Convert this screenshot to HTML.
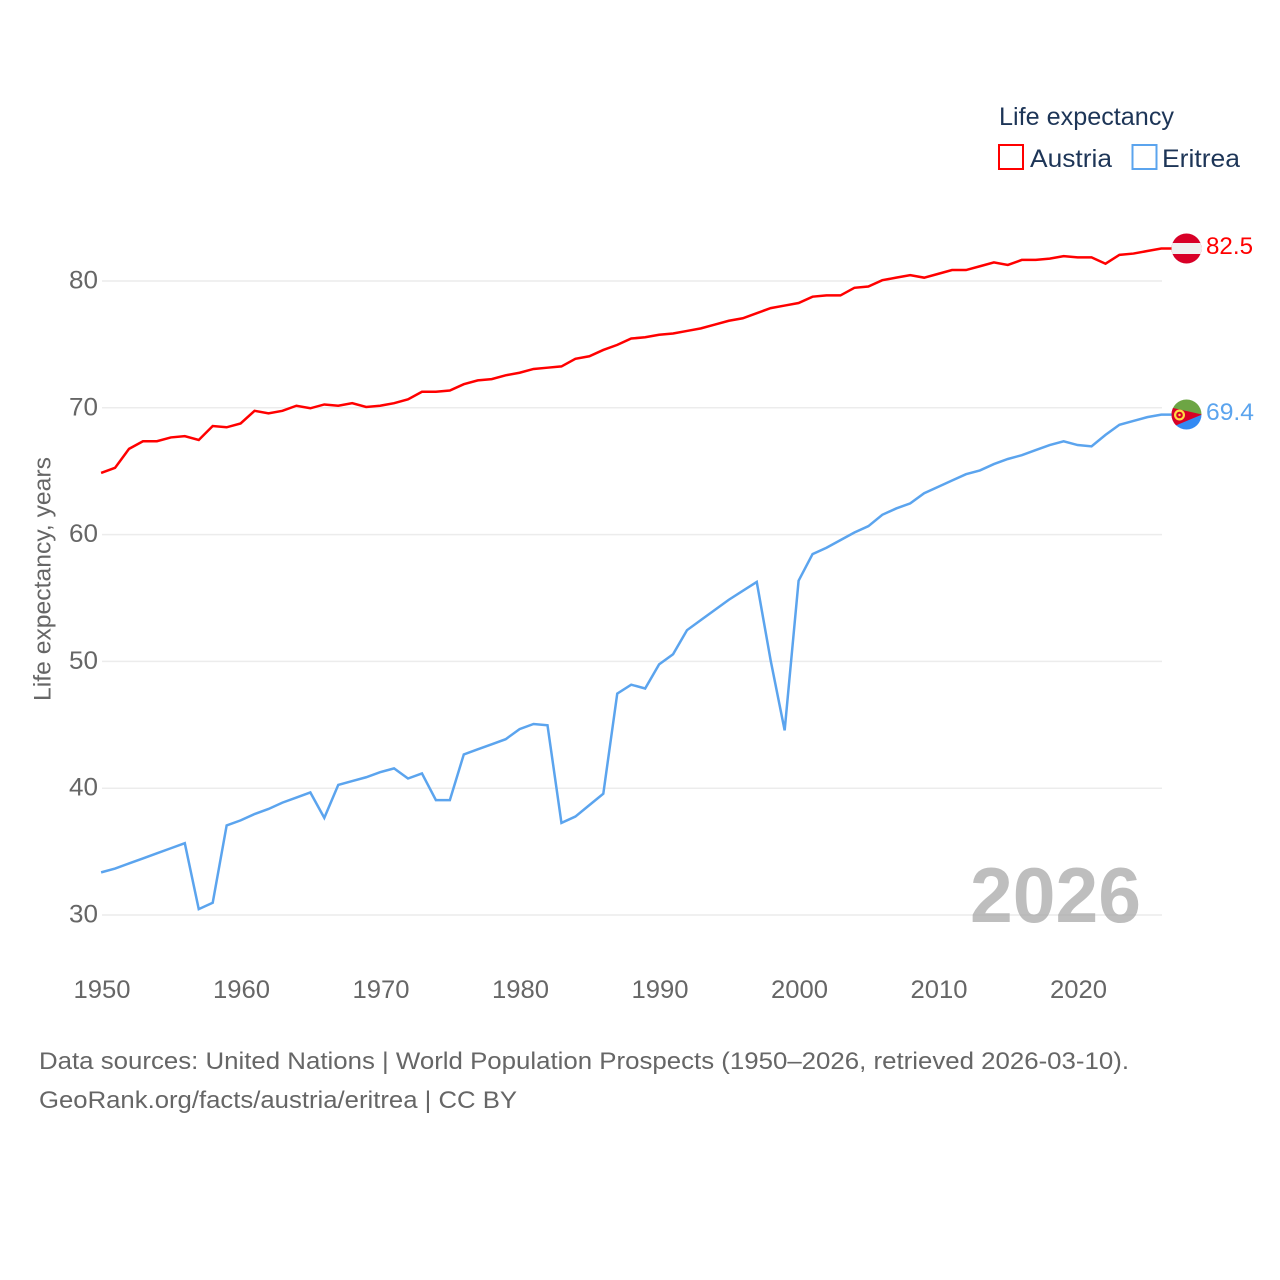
<!DOCTYPE html>
<html lang="en">
<head>
<meta charset="utf-8">
<title>Life expectancy: Austria and Eritrea</title>
<style>
html,body{margin:0;padding:0;background:#fff;}
svg{display:block;font-family:"Liberation Sans",sans-serif;}
</style>
</head>
<body>
<svg id="chart" xmlns="http://www.w3.org/2000/svg" width="1280" height="1280" viewBox="0 0 1280 1280">
  <rect x="0" y="0" width="1280" height="1280" fill="#ffffff"/>
  <g id="grid"></g>
  <g id="yticks"></g>
  <g id="xticks"></g>
  <text transform="translate(50.5,701) rotate(-90)" font-size="24.5" fill="#666666" textLength="244" lengthAdjust="spacingAndGlyphs">Life expectancy, years</text>
  <text x="970" y="922" font-size="78" font-weight="700" fill="#a8a8a8" fill-opacity="0.75" textLength="171" lengthAdjust="spacingAndGlyphs">2026</text>
  <g id="series" transform="translate(-0.4,-0.8)"></g>
  <g id="flag-austria">
    <clipPath id="clip-at"><circle cx="1186.5" cy="248.5" r="15"/></clipPath>
    <g clip-path="url(#clip-at)">
      <rect x="1171" y="233" width="31" height="31" fill="#d80027"/>
      <rect x="1171" y="243" width="31" height="11" fill="#f0f0f0"/>
    </g>
  </g>
  <g id="flag-eritrea">
    <clipPath id="clip-er"><circle cx="1186.5" cy="414.5" r="15"/></clipPath>
    <g clip-path="url(#clip-er)">
      <rect x="1171" y="399" width="31" height="16" fill="#6da544"/>
      <rect x="1171" y="414.5" width="31" height="16" fill="#338af3"/>
      <polygon points="1171,407.5 1202,414.5 1171,427.5" fill="#d80027"/>
      <circle cx="1179.5" cy="415" r="4.4" fill="none" stroke="#ffda44" stroke-width="2.2"/>
      <circle cx="1179.5" cy="415" r="1.2" fill="#ffda44"/>
    </g>
  </g>
  <text x="1206" y="254" font-size="24.5" fill="#ff0000" textLength="47" lengthAdjust="spacingAndGlyphs">82.5</text>
  <text x="1206" y="420" font-size="24.5" fill="#5ba4ee" textLength="48" lengthAdjust="spacingAndGlyphs">69.4</text>
  <g>
    <text x="999" y="125" font-size="25" fill="#1d3557" textLength="175" lengthAdjust="spacingAndGlyphs">Life expectancy</text>
    <g>
      <rect x="999" y="145" width="24" height="24" fill="none" stroke="#ff0000" stroke-width="2"/>
      <text x="1030" y="167" font-size="25" fill="#1d3557" textLength="82" lengthAdjust="spacingAndGlyphs">Austria</text>
    </g>
    <g>
      <rect x="1132.5" y="145" width="24" height="24" fill="none" stroke="#5ba4ee" stroke-width="2"/>
      <text x="1162" y="167" font-size="25" fill="#1d3557" textLength="78" lengthAdjust="spacingAndGlyphs">Eritrea</text>
    </g>
  </g>
  <text x="39" y="1069" font-size="24.5" fill="#666666" textLength="1090" lengthAdjust="spacingAndGlyphs">Data sources: United Nations | World Population Prospects (1950–2026, retrieved 2026-03-10).</text>
  <text x="39" y="1108" font-size="24.5" fill="#666666" textLength="478" lengthAdjust="spacingAndGlyphs">GeoRank.org/facts/austria/eritrea | CC BY</text>
</svg>
<script>
const startYear = 1950;
const yTickValues = [30, 40, 50, 60, 70, 80];
const xTickValues = [1950, 1960, 1970, 1980, 1990, 2000, 2010, 2020];
const austriaValues = [64.8,65.2,66.7,67.3,67.3,67.6,67.7,67.4,68.5,68.4,68.7,69.7,69.5,69.7,70.1,69.9,70.2,70.1,70.3,70.0,70.1,70.3,70.6,71.2,71.2,71.3,71.8,72.1,72.2,72.5,72.7,73.0,73.1,73.2,73.8,74.0,74.5,74.9,75.4,75.5,75.7,75.8,76.0,76.2,76.5,76.8,77.0,77.4,77.8,78.0,78.2,78.7,78.8,78.8,79.4,79.5,80.0,80.2,80.4,80.2,80.5,80.8,80.8,81.1,81.4,81.2,81.6,81.6,81.7,81.9,81.8,81.8,81.3,82.0,82.1,82.3,82.5];
const eritreaValues = [33.3,33.6,34.0,34.4,34.8,35.2,35.6,30.4,30.9,37.0,37.4,37.9,38.3,38.8,39.2,39.6,37.6,40.2,40.5,40.8,41.2,41.5,40.7,41.1,39.0,39.0,42.6,43.0,43.4,43.8,44.6,45.0,44.9,37.2,37.7,38.6,39.5,47.4,48.1,47.8,49.7,50.5,52.4,53.2,54.0,54.8,55.5,56.2,50.0,44.5,56.3,58.4,58.9,59.5,60.1,60.6,61.5,62.0,62.4,63.2,63.7,64.2,64.7,65.0,65.5,65.9,66.2,66.6,67.0,67.3,67.0,66.9,67.8,68.6,68.9,69.2,69.4];

const NS = 'http://www.w3.org/2000/svg';
function xScale(year) { return 101.5 + (year - 1950) * 13.95; }
function yScale(v) { return 915 - (v - 30) * 12.68; }

const grid = document.getElementById('grid');
const yticks = document.getElementById('yticks');
yTickValues.forEach(function (v) {
  const line = document.createElementNS(NS, 'line');
  
  
  line.setAttribute('x1', 102);
  line.setAttribute('x2', 1162);
  line.setAttribute('y1', yScale(v));
  line.setAttribute('y2', yScale(v));
  line.setAttribute('stroke', '#ececec');
  line.setAttribute('stroke-width', 1.5);
  grid.appendChild(line);
  const label = document.createElementNS(NS, 'text');
  
  
  label.setAttribute('x', 69);
  label.setAttribute('y', yScale(v) + 7.5);
  label.setAttribute('font-size', 25);
  label.setAttribute('fill', '#666666');
  label.setAttribute('textLength', 29);
  label.setAttribute('lengthAdjust', 'spacingAndGlyphs');
  label.textContent = String(v);
  yticks.appendChild(label);
});

const xticks = document.getElementById('xticks');
xTickValues.forEach(function (year) {
  const label = document.createElementNS(NS, 'text');
  
  
  label.setAttribute('x', xScale(year) - 28);
  label.setAttribute('y', 998);
  label.setAttribute('font-size', 25);
  label.setAttribute('fill', '#666666');
  label.setAttribute('textLength', 57);
  label.setAttribute('lengthAdjust', 'spacingAndGlyphs');
  label.textContent = String(year);
  xticks.appendChild(label);
});

function seriesPoints(values) {
  return values.map(function (v, i) {
    return xScale(startYear + i).toFixed(2) + ',' + yScale(v).toFixed(2);
  });
}

const seriesGroup = document.getElementById('series');

const austriaLine = document.createElementNS(NS, 'polyline');


austriaLine.setAttribute('points', seriesPoints(austriaValues).join(' ') + ' 1172,' + yScale(austriaValues[austriaValues.length - 1]).toFixed(2));
austriaLine.setAttribute('fill', 'none');
austriaLine.setAttribute('stroke', '#ff0000');
austriaLine.setAttribute('stroke-width', 2.5);
seriesGroup.appendChild(austriaLine);

const eritreaLine = document.createElementNS(NS, 'polyline');


eritreaLine.setAttribute('points', seriesPoints(eritreaValues).join(' ') + ' 1172,' + yScale(eritreaValues[eritreaValues.length - 1]).toFixed(2));
eritreaLine.setAttribute('fill', 'none');
eritreaLine.setAttribute('stroke', '#5ba4ee');
eritreaLine.setAttribute('stroke-width', 2.5);
seriesGroup.appendChild(eritreaLine);
</script>
</body>
</html>
